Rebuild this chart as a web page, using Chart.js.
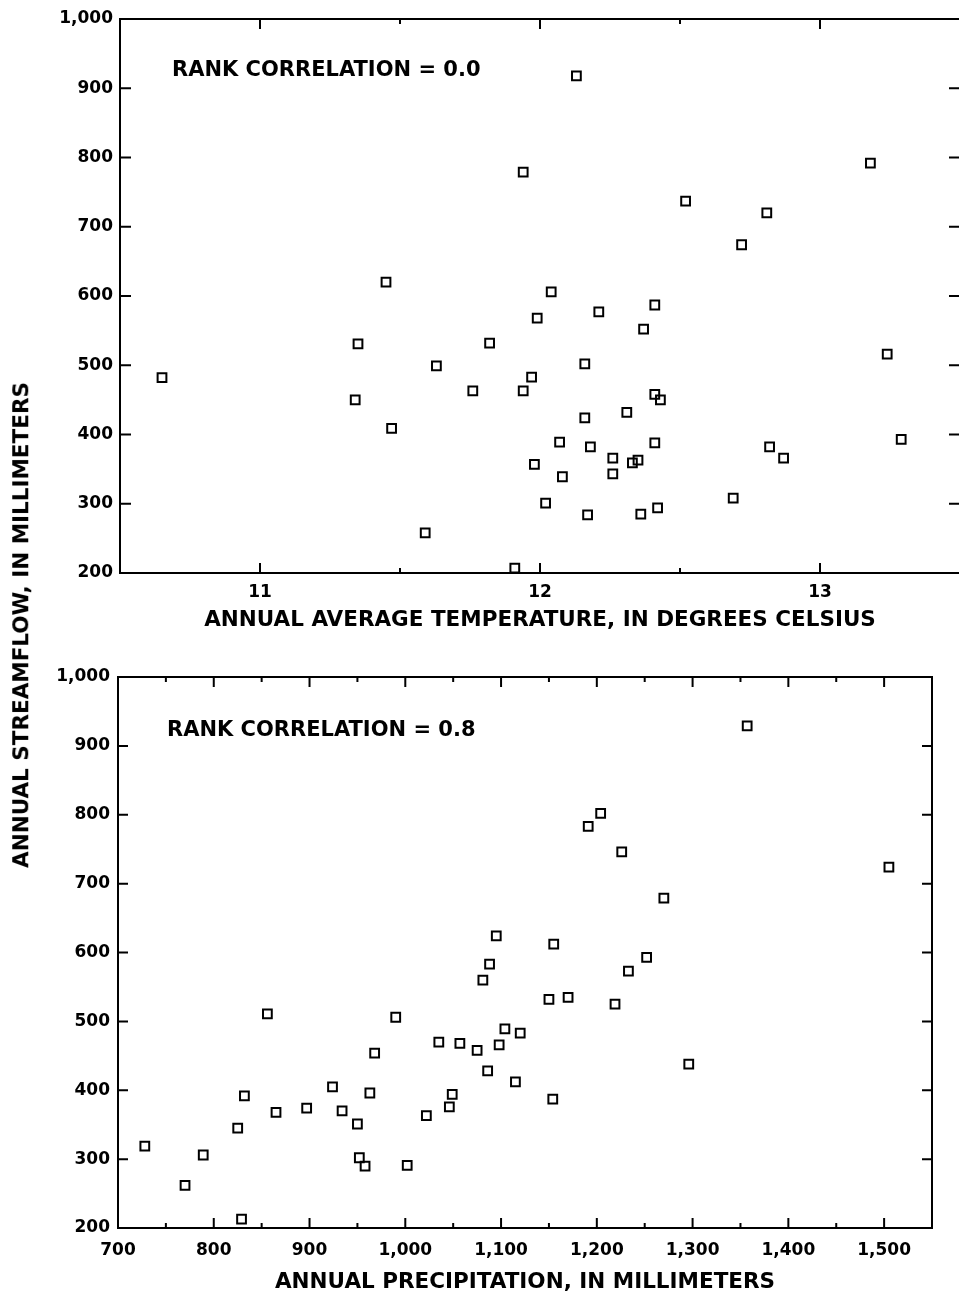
<!DOCTYPE html>
<html>
<head>
<meta charset="utf-8">
<script src="https://cdn.jsdelivr.net/npm/chart.js@4"></script>
<style>
  html, body { margin: 0; padding: 0; background: #fff; overflow: hidden; }
  body { width: 959px; height: 1292px; position: relative; }
  canvas { position: absolute; left: 0; }
  #topChart { top: 0; }
  #bottomChart { top: 650px; }
  #ytitle {
    position: absolute; left: 21px; top: 625px;
    transform: translate(-50%, -50%) rotate(-90deg);
    font: bold 21.5px "DejaVu Sans", sans-serif; line-height: 1;
    white-space: nowrap; color: #000;
  }
</style>
</head>
<body>
<canvas id="topChart" width="980" height="640"></canvas>
<canvas id="bottomChart" width="959" height="645"></canvas>
<div id="ytitle">ANNUAL STREAMFLOW, IN MILLIMETERS</div>

<script>
// Data
const tempC = [10.65, 11.35, 11.34, 11.45, 11.47, 11.59, 11.63, 11.76, 11.82, 11.94, 11.94, 11.97, 11.99, 11.98, 12.02, 12.04,
  12.07, 12.08, 12.13, 12.16, 12.16, 12.17, 12.18, 12.21, 12.26, 12.26, 12.31, 12.33, 12.35, 12.36, 12.37, 12.41,
  12.41, 12.41, 12.43, 12.42, 12.52, 12.69, 12.72, 12.81, 12.82, 12.87, 13.18, 13.24, 13.29, 11.91];
const flowByTemp = [482, 531, 450, 620, 409, 258, 499, 463, 532, 779, 463, 483, 568, 357, 301, 606,
  389, 339, 918, 502, 424, 284, 382, 577, 366, 343, 432, 359, 363, 285, 552, 458,
  587, 388, 450, 294, 737, 308, 674, 720, 382, 366, 792, 516, 393, 207];

const precipMm = [728, 770, 789, 825, 832, 829, 856, 865, 897, 924, 934, 950, 952, 958, 963, 968,
  990, 1002, 1022, 1035, 1046, 1049, 1057, 1075, 1081, 1088, 1095, 1086, 1098, 1104, 1120, 1115,
  1150, 1155, 1154, 1170, 1191, 1204, 1219, 1226, 1233, 1252, 1270, 1296, 1357, 1505];
const flowByPrecip = [319, 262, 306, 345, 392, 213, 511, 368, 374, 405, 370, 351, 302, 290, 396, 454,
  506, 291, 363, 470, 376, 394, 468, 458, 560, 583, 624, 428, 466, 489, 483, 412,
  532, 612, 387, 535, 783, 802, 525, 746, 573, 593, 679, 438, 929, 724];

const topNote = 'RANK CORRELATION = 0.0';
const bottomNote = 'RANK CORRELATION = 0.8';
const topXTitle = 'ANNUAL AVERAGE TEMPERATURE, IN DEGREES CELSIUS';
const bottomXTitle = 'ANNUAL PRECIPITATION, IN MILLIMETERS';

const FONT = '"DejaVu Sans", sans-serif';
const fmt = v => v.toLocaleString('en-US');

// box around the plot with tick marks pointing inward
const frameTicks = {
  id: 'frameTicks',
  afterDatasetsDraw(chart, args, opts) {
    const { ctx, chartArea: a, scales: { x, y } } = chart;
    ctx.save();
    ctx.strokeStyle = '#000';
    ctx.lineWidth = 2;
    ctx.strokeRect(a.left, a.top, a.right - a.left, a.bottom - a.top);
    ctx.beginPath();
    x.ticks.forEach(t => {
      const px = x.getPixelForValue(t.value);
      const len = Math.abs(t.value % opts.xMajor) < 1e-9 ? 10 : 5;
      ctx.moveTo(px, a.bottom); ctx.lineTo(px, a.bottom - len);
      ctx.moveTo(px, a.top); ctx.lineTo(px, a.top + len);
    });
    y.ticks.forEach(t => {
      const py = y.getPixelForValue(t.value);
      ctx.moveTo(a.left, py); ctx.lineTo(a.left + opts.yLen, py);
      ctx.moveTo(a.right, py); ctx.lineTo(a.right - opts.yLen, py);
    });
    ctx.stroke();
    ctx.restore();
  }
};

const note = {
  id: 'note',
  afterDraw(chart, args, opts) {
    const { ctx } = chart;
    ctx.save();
    ctx.fillStyle = '#000';
    ctx.font = 'bold 21px ' + FONT;
    ctx.textBaseline = 'alphabetic';
    ctx.fillText(opts.text, opts.left, opts.baseline);
    ctx.restore();
  }
};

function makeChart(id, xs, ys, cfg) {
  const pts = xs.map((v, i) => ({ x: v, y: ys[i] }));
  return new Chart(document.getElementById(id), {
    type: 'scatter',
    data: {
      datasets: [{
        data: pts,
        pointStyle: 'rect',
        pointRadius: 6.2,
        pointBorderWidth: 2,
        pointBorderColor: '#000',
        pointBackgroundColor: 'rgba(0,0,0,0)'
      }]
    },
    options: {
      responsive: false,
      animation: false,
      events: [],
      layout: { padding: cfg.padding },
      scales: {
        x: {
          type: 'linear', min: cfg.xMin, max: cfg.xMax,
          grid: { display: false, drawTicks: false },
          border: { display: false },
          ticks: {
            stepSize: cfg.xStep, autoSkip: false, maxRotation: 0, padding: cfg.xPad,
            color: '#000', font: { family: FONT, size: 17, weight: 'bold' },
            callback: cfg.xLabel
          },
          title: {
            display: true, text: cfg.xTitle, color: '#000',
            font: { family: FONT, size: 21.5, weight: 'bold' },
            padding: { top: 0, bottom: cfg.titlePad }
          },
          afterFit: s => { s.height = cfg.xHeight; }
        },
        y: {
          type: 'linear', min: 200, max: 1000,
          grid: { display: false, drawTicks: false },
          border: { display: false },
          ticks: {
            stepSize: 100, autoSkip: false, padding: cfg.yPad,
            color: '#000', font: { family: FONT, size: 17, weight: 'bold' },
            callback: v => fmt(v)
          },
          afterFit: s => { s.width = cfg.yWidth; }
        }
      },
      plugins: {
        legend: { display: false },
        tooltip: { enabled: false },
        frameTicks: { xMajor: cfg.xMajor, yLen: cfg.yLen },
        note: { text: cfg.note, left: cfg.noteLeft, baseline: cfg.noteBase }
      }
    },
    plugins: [frameTicks, note]
  });
}

makeChart('topChart', tempC, flowByTemp, {
  padding: { left: 40, top: 19, right: 20, bottom: 0 },
  xMin: 10.5, xMax: 13.5, xStep: 0.5, xMajor: 1,
  xLabel: v => Number.isInteger(v) ? String(v) : '',
  xTitle: topXTitle, xPad: 9, titlePad: 7, xHeight: 67,
  yWidth: 80, yPad: 7, yLen: 11,
  note: topNote, noteLeft: 172, noteBase: 76
});

makeChart('bottomChart', precipMm, flowByPrecip, {
  padding: { left: 40, top: 27, right: 27, bottom: 0 },
  xMin: 700, xMax: 1550, xStep: 50, xMajor: 100,
  xLabel: v => (v % 100 === 0 && v <= 1500) ? fmt(v) : '',
  xTitle: bottomXTitle, xPad: 12, titlePad: 0, xHeight: 67,
  yWidth: 78, yPad: 8, yLen: 10,
  note: bottomNote, noteLeft: 167, noteBase: 86
});
</script>
</body>
</html>
